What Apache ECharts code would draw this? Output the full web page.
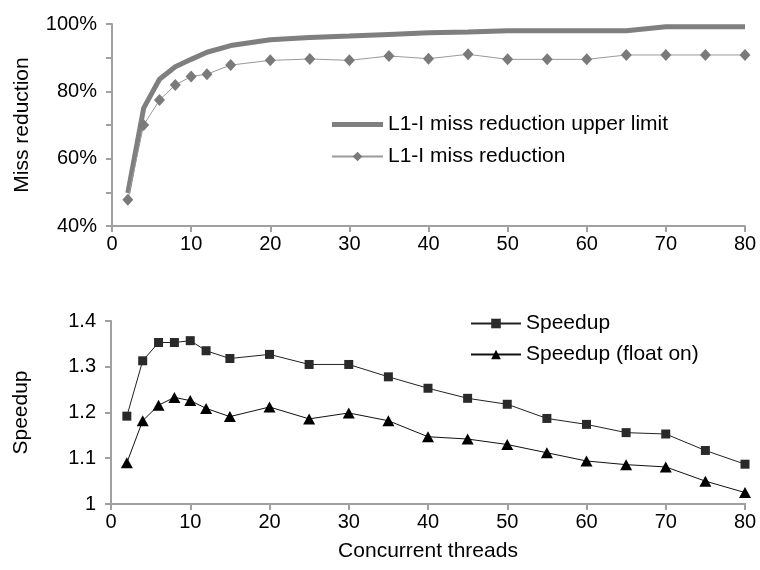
<!DOCTYPE html>
<html>
<head>
<meta charset="utf-8">
<script src="https://cdn.jsdelivr.net/npm/echarts@6/dist/echarts.min.js"></script>
<style>
  html, body { margin: 0; padding: 0; background: #fff; }
  #main { width: 760px; height: 570px; }
</style>
</head>
<body>
<div id="main"></div>
<script>
var threads = [2, 4, 6, 8, 10, 12, 15, 20, 25, 30, 35, 40, 45, 50, 55, 60, 65, 70, 75, 80]

// top chart, percent
var upperLimit = [49.8, 75, 83.6, 87.3, 89.5, 91.6, 93.6, 95.3, 96, 96.4, 96.9, 97.4, 97.6, 98, 98, 98, 98, 99.2, 99.2, 99.2]
var missReduction = [47.8, 70, 77.4, 81.9, 84.4, 85.1, 87.8, 89.2, 89.6, 89.2, 90.5, 89.7, 91, 89.5, 89.5, 89.5, 90.8, 90.8, 90.8, 90.8]

// bottom chart
var speedup = [1.192, 1.313, 1.353, 1.353, 1.357, 1.335, 1.318, 1.327, 1.305, 1.305, 1.278, 1.253, 1.231, 1.218, 1.187, 1.174, 1.156, 1.153, 1.117, 1.087]
var speedupFloat = [1.090, 1.182, 1.216, 1.233, 1.226, 1.209, 1.191, 1.212, 1.186, 1.199, 1.182, 1.147, 1.142, 1.130, 1.112, 1.094, 1.086, 1.081, 1.050, 1.025]

var missTicks = [40, 60, 80, 100]
var speedupTicks = [1, 1.1, 1.2, 1.3, 1.4]

var font = 'Liberation Sans, Arial, sans-serif'
var axisGray = '#a0a0a0'

function pairs(xs, ys) {
    var out = []
    for (var i = 0; i < xs.length; i++) {
        out.push([xs[i], ys[i]])
    }
    return out
}

function xAxisOf(gridIndex, name) {
    return {
        type: 'value',
        gridIndex: gridIndex,
        min: 0,
        max: 80,
        interval: 10,
        name: name,
        nameLocation: 'middle',
        nameGap: 37,
        nameTextStyle: {color: '#000', fontSize: 21, fontFamily: font},
        axisLine: {lineStyle: {color: axisGray, width: 2}},
        axisTick: {lineStyle: {color: axisGray, width: 2}, length: 6},
        axisLabel: {color: '#000', fontSize: 20, fontFamily: font, margin: 8},
        splitLine: {show: false}
    }
}

function yAxisOf(gridIndex, name, min, max, interval, formatter) {
    return {
        type: 'value',
        gridIndex: gridIndex,
        min: min,
        max: max,
        interval: interval,
        name: name,
        nameLocation: 'middle',
        nameGap: 79,
        nameTextStyle: {color: '#000', fontSize: 21, fontFamily: font},
        axisLine: {show: true, lineStyle: {color: axisGray, width: 2}},
        axisTick: {show: true, lineStyle: {color: axisGray, width: 2}, length: 6},
        axisLabel: {color: '#000', fontSize: 20, fontFamily: font, margin: 15, formatter: formatter},
        splitLine: {show: false}
    }
}

var element = document.querySelector('#main')
var myChart = echarts.init(element)

var option = {
    animation: false,
    backgroundColor: '#fff',
    textStyle: {fontFamily: font},
    grid: [
        {left: 112, right: 15, top: 24, bottom: 344},
        {left: 111, right: 15, top: 321, bottom: 66}
    ],
    legend: [
        {
            data: [
                {name: 'L1-I miss reduction upper limit', icon: 'path://M0,0H51V5H0Z'},
                'L1-I miss reduction'
            ],
            orient: 'vertical',
            left: 326,
            top: 109,
            itemWidth: 51,
            itemHeight: 12,
            itemGap: 11,
            textStyle: {color: '#000', fontSize: 21, fontFamily: font}
        },
        {
            data: ['Speedup', 'Speedup (float on)'],
            orient: 'vertical',
            left: 465,
            top: 308,
            itemWidth: 50,
            itemHeight: 12,
            itemGap: 10,
            textStyle: {color: '#000', fontSize: 21, fontFamily: font}
        }
    ],
    xAxis: [
        xAxisOf(0, ''),
        xAxisOf(1, 'Concurrent threads')
    ],
    yAxis: [
        yAxisOf(0, 'Miss reduction', 40, 100, 10, function(v) {
            return missTicks.indexOf(v) >= 0 ? v + '%' : ''
        }),
        yAxisOf(1, 'Speedup', 1, 1.4, 0.1, function(v) {
            var r = Math.round(v * 10) / 10
            return speedupTicks.indexOf(r) >= 0 ? String(r) : ''
        })
    ],
    series: [
        {
            name: 'L1-I miss reduction upper limit',
            type: 'line',
            xAxisIndex: 0,
            yAxisIndex: 0,
            data: pairs(threads, upperLimit),
            symbol: 'none',
            lineStyle: {color: '#7f7f7f', width: 5},
            itemStyle: {color: '#7f7f7f'},
            z: 3
        },
        {
            name: 'L1-I miss reduction',
            type: 'line',
            xAxisIndex: 0,
            yAxisIndex: 0,
            data: pairs(threads, missReduction),
            symbol: 'diamond',
            symbolSize: [11, 12],
            lineStyle: {color: '#9a9a9a', width: 1},
            itemStyle: {color: '#7a7a7a'},
            z: 4
        },
        {
            name: 'Speedup',
            type: 'line',
            xAxisIndex: 1,
            yAxisIndex: 1,
            data: pairs(threads, speedup),
            symbol: 'rect',
            symbolSize: 9,
            lineStyle: {color: '#222', width: 1},
            itemStyle: {color: '#2a2a2a'}
        },
        {
            name: 'Speedup (float on)',
            type: 'line',
            xAxisIndex: 1,
            yAxisIndex: 1,
            data: pairs(threads, speedupFloat),
            symbol: 'triangle',
            symbolSize: [12, 11],
            lineStyle: {color: '#111', width: 1},
            itemStyle: {color: '#000'}
        }
    ]
}

myChart.setOption(option)
</script>
</body>
</html>
